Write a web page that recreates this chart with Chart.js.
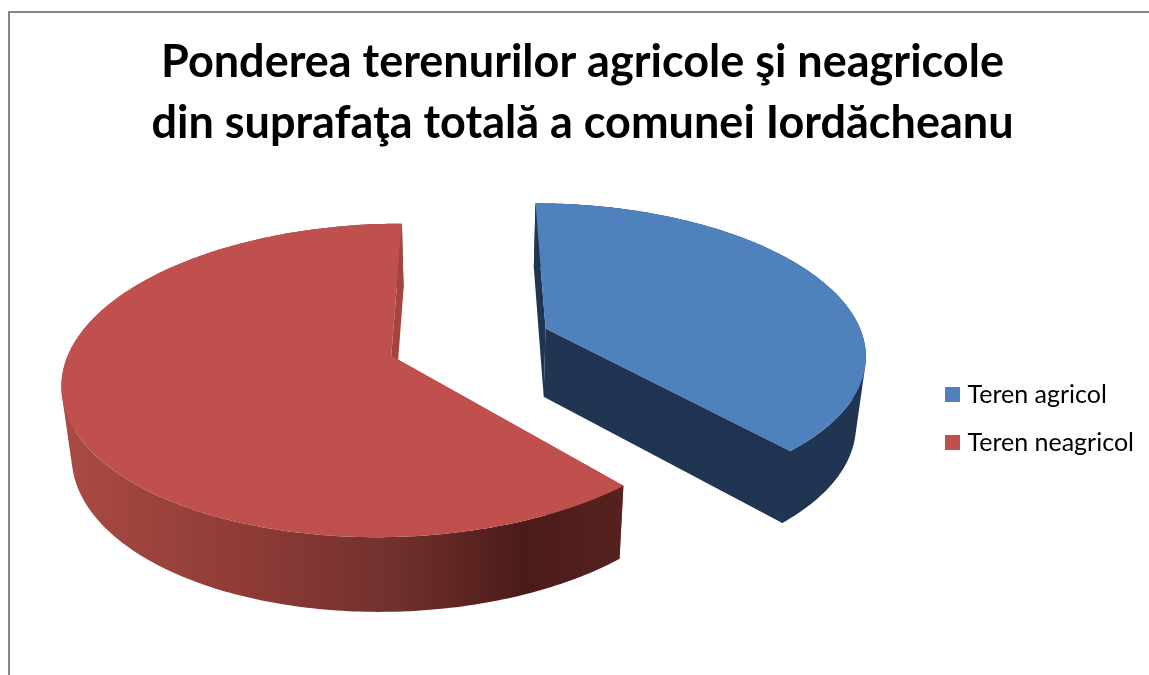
<!DOCTYPE html>
<html><head><meta charset="utf-8">
<script src="https://cdn.jsdelivr.net/npm/chart.js@4"></script>
<style>
html,body{margin:0;padding:0;background:#fff;overflow:hidden;width:1149px;height:675px}
#frame{position:absolute;left:8px;top:11px;width:1300px;height:900px;border:2px solid #878787;box-sizing:border-box}
#wrap{position:absolute;left:0;top:0;width:1149px;height:675px}
</style></head><body>
<div id="frame"></div>
<div id="wrap"><canvas id="c" width="1149" height="675"></canvas></div>
<script>
const titleLines = ["Ponderea terenurilor agricole şi neagricole","din suprafaţa totală a comunei Iordăcheanu"];
const categories = ["Teren agricol","Teren neagricol"];
const values = [38.5,61.5];
const faceColors = ["#4f81bd","#c0504d"];
const wallColors = ["#1f3552","#a5433f"];
const explodeOffset = 174;

// 3D view of the pie plane (perspective and extrusion)
const view = {x0:469.5,y0:342,sx:319,sy:148.6,k:0.155,depthX:0.975,depthY:1.032,depthShift:57.5};

function project(u,v,bottom){
  const w = 1 - view.k*v;
  let x = view.x0 + view.sx*u/w, y = view.y0 + view.sy*v/w;
  if(bottom){ x = view.x0 + (x-view.x0)*view.depthX; y = y*view.depthY + view.depthShift; }
  return [x,y];
}
function slicePoint(arc,angle,r,bottom){
  const R = arc.outerRadius, mid=(arc.startAngle+arc.endAngle)/2, off=(arc.options.offset||0)/4;
  const u = (Math.cos(mid)*off + Math.cos(angle)*r)/R;
  const v = (Math.sin(mid)*off + Math.sin(angle)*r)/R;
  return project(u,v,bottom);
}
function tracePoly(ctx,pts){
  pts.forEach((p,i)=> i?ctx.lineTo(p[0],p[1]):ctx.moveTo(p[0],p[1]));
  ctx.closePath();
}
function poly(ctx,pts,fill){
  ctx.beginPath(); tracePoly(ctx,pts);
  ctx.fillStyle=fill; ctx.fill();
}
function signedArea(pts){
  let s=0;
  pts.forEach((p,i)=>{const q=pts[(i+1)%pts.length]; s+=p[0]*q[1]-q[0]*p[1];});
  return s;
}
const pie3d = {
  id:'pie3d',
  beforeDatasetDraw(chart,args){
    const ctx=chart.ctx, arcs=chart.getDatasetMeta(args.index).data;
    ctx.save();
    arcs.forEach((arc,i)=>{
      const a0=arc.startAngle, a1=arc.endAngle, R=arc.outerRadius, N=240;
      const top=[],bot=[];
      for(let j=0;j<=N;j++){
        const a=a0+(a1-a0)*j/N;
        top.push(slicePoint(arc,a,R,false)); bot.push(slicePoint(arc,a,R,true));
      }
      const apexT=slicePoint(arc,a0,0,false), apexB=slicePoint(arc,a0,0,true);
      let outer=wallColors[i];
      if(i===1){
        const g=ctx.createLinearGradient(62,0,625,0);
        g.addColorStop(0,'#aa4b43');g.addColorStop(0.33,'#8e3b37');g.addColorStop(0.6,'#70302c');
        g.addColorStop(0.82,'#4b1b19');g.addColorStop(1,'#562220');
        outer=g;
      }
      poly(ctx,[apexT,top[0],bot[0],apexB],wallColors[i]);
      ctx.beginPath();
      for(let j=0;j<N;j++){
        const q=[top[j],top[j+1],bot[j+1],bot[j]];
        tracePoly(ctx,signedArea(q)<0?q.reverse():q);
      }
      ctx.fillStyle=outer; ctx.fill('nonzero');
      poly(ctx,[apexT,top[N],bot[N],apexB],wallColors[i]);
      if(i===0){
        ctx.beginPath();ctx.moveTo(top[N][0],top[N][1]);ctx.lineTo(bot[N][0],bot[N][1]);
        ctx.strokeStyle=wallColors[i];ctx.lineWidth=1.2;ctx.stroke();
      }
      poly(ctx,[apexT].concat(top),faceColors[i]);
    });
    ctx.restore();
    return false;
  }
};
new Chart(document.getElementById('c'),{
  type:'pie',
  plugins:[pie3d],
  data:{labels:categories,datasets:[{data:values,backgroundColor:faceColors,borderWidth:0,offset:explodeOffset}]},
  options:{
    responsive:false,animation:false,
    layout:{padding:{left:21,right:5,top:0,bottom:-162}},
    plugins:{
      tooltip:{enabled:false},
      title:{display:true,text:titleLines,color:'#000',
        font:{family:'Lato',size:45,weight:'bold',lineHeight:1.36},padding:{top:32,bottom:10}},
      legend:{position:'right',
        labels:{font:{family:'Lato',size:25},color:'#000',usePointStyle:true,pointStyle:'rect',boxWidth:5,boxHeight:15,padding:23}}
    }
  }
});
</script>
</body></html>
